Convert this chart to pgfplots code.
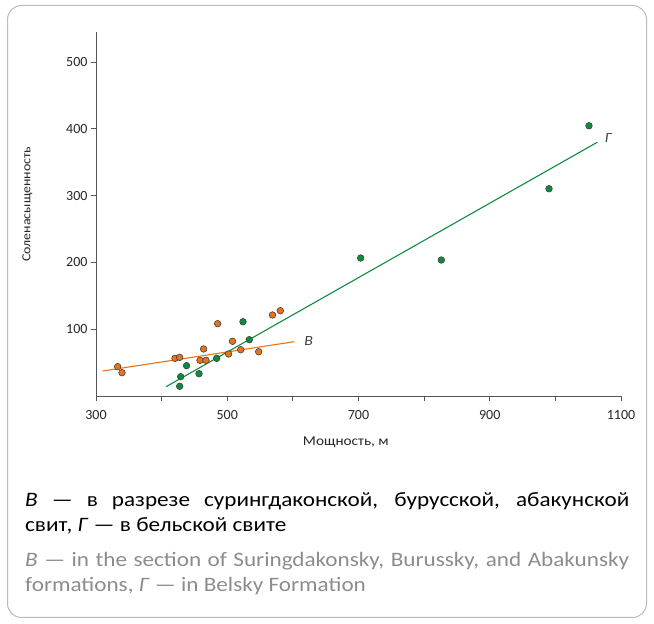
\documentclass[border=0pt]{standalone}
\usepackage{fontspec}
\setmainfont{Carlito}
\usepackage{graphicx}
\usepackage{pgfplots}
\pgfplotsset{compat=1.18}
\definecolor{gor}{HTML}{E8731A}
\definecolor{ggr}{HTML}{0E8C3E}
\definecolor{axc}{HTML}{555555}
\definecolor{frm}{HTML}{BBBBBB}
\newcommand{\st}[1]{\scalebox{1.13}[1]{#1}}
\newcommand{\stc}[1]{\scalebox{1.13}[1]{#1}}
\begin{document}
\begin{tikzpicture}[x=1pt,y=1pt]
\path[use as bounding box] (0,0) rectangle (654,624);
\draw[frm, line width=1pt, rounded corners=14pt] (7.5,6.5) rectangle (646.5,618.5);
\begin{axis}[
  at={(96pt,228pt)}, anchor=south west,
  scale only axis, width=525pt, height=364pt,
  xmin=300, xmax=1100, ymin=0, ymax=545,
  axis lines*=left, axis line style={axc, line width=0.9pt, -},
  xtick={300,500,700,900,1100}, minor xtick={400,600,800,1000},
  ytick={100,200,300,400,500},
  tick style={axc, line width=0.8pt},
  tick align=outside, major tick length=5pt, minor tick length=5pt,
  tick label style={font=\fontsize{14}{16}\selectfont, text=black!85},
  xticklabel style={yshift=-5.5pt},
  /pgf/number format/assume math mode=true,
  /pgf/number format/1000 sep={},
  xlabel={\st{Мощность, м}}, ylabel={\st{Соленасыщенность}},
  xlabel style={font=\fontsize{13.5}{15}\selectfont, text=black!85, at={(axis description cs:0.476,0)}, anchor=base, yshift=-50pt},
  ylabel style={font=\fontsize{12.3}{14}\selectfont, text=black!85, at={(axis description cs:0,0.527)}, anchor=south, yshift=60pt},
  clip=false,
]
% regression lines
\addplot[gor, line width=1.1pt] coordinates {(310,37.4) (602,81.3)};
\addplot[ggr, line width=1.1pt] coordinates {(407,14) (1064,380)};
% orange points
\addplot[only marks, mark=*, mark size=3.3pt, mark options={fill=gor, draw=black!75, line width=0.6pt}] coordinates {
(333,43.9) (339.6,34.9) (420.4,56.4) (427.5,57.9) (485.4,108.2) (464,70.4)
(458.5,53.4) (467.6,53.4) (502,62.9) (508,81.9) (520.5,69.3) (547.9,66.3)
(569,121.3) (580.9,127.7)};
% green points
\addplot[only marks, mark=*, mark size=3.3pt, mark options={fill=ggr, draw=black!75, line width=0.6pt}] coordinates {
(427.5,14.5) (429,28.9) (438,45.4) (457,33.4) (483.9,56.4) (524,111.2)
(533.6,84.3) (703.3,206.6) (826.2,203.6) (990.3,310.3) (1051.2,404.6)};
\node[font=\fontsize{14}{15}\selectfont\itshape, text=black!75, anchor=west] at (axis cs:612,83) {\st{В}};
\node[font=\fontsize{14}{15}\selectfont\itshape, text=black!75, anchor=west] at (axis cs:1070,387) {\st{Г}};
\end{axis}
\node[anchor=base west, inner sep=0pt, font=\fontsize{20.5}{24}\selectfont] at (25,117)
  {\stc{\makebox[534.5pt][s]{\textit{В} — в разрезе сурингдаконской, бурусской, абакунской}}};
\node[anchor=base west, inner sep=0pt, font=\fontsize{20.5}{24}\selectfont] at (25,92)
  {\stc{свит, \textit{Г} — в бельской свите}};
\node[anchor=base west, inner sep=0pt, font=\fontsize{20.5}{24}\selectfont, text=black!45] at (25,57)
  {\stc{\makebox[534.5pt][s]{\textit{В} — in the section of Suringdakonsky, Burussky, and Abakunsky}}};
\node[anchor=base west, inner sep=0pt, font=\fontsize{20.5}{24}\selectfont, text=black!45] at (25,32)
  {\stc{formations, \textit{Г} — in Belsky Formation}};
\end{tikzpicture}
\end{document}
